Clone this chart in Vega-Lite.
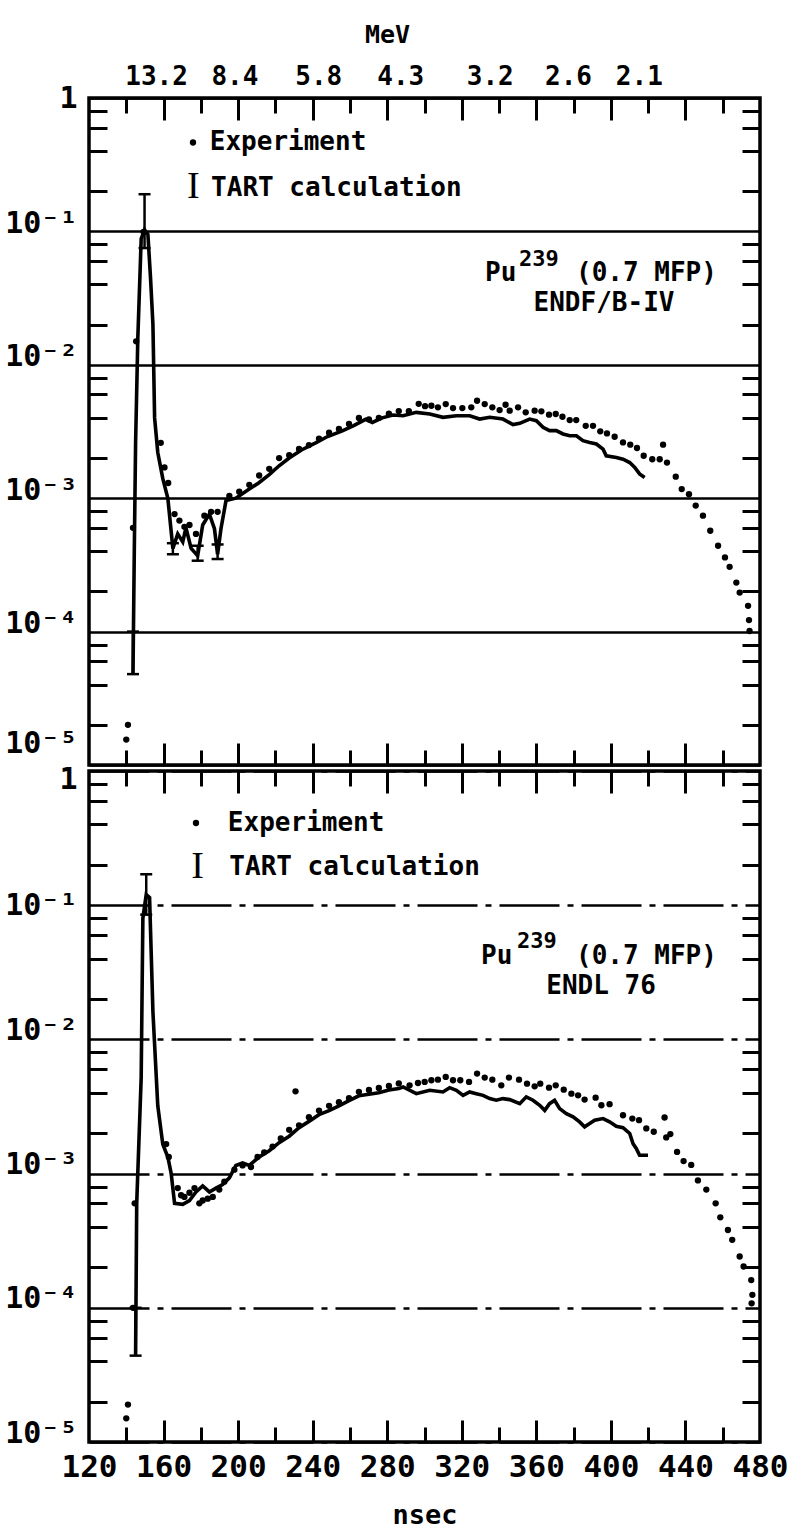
{
  "$schema": "https://vega.github.io/schema/vega-lite/v6.json",
  "background": "white",
  "padding": {"left": 0, "top": 20, "right": 0, "bottom": 0},
  "spacing": 6,
  "bounds": "flush",
  "config": {
    "view": {"stroke": "black", "strokeWidth": 3.5},
    "axis": {"domain": false, "grid": false, "labelColor": "black", "tickColor": "black", "tickWidth": 3, "labelOverlap": false, "labelFlush": false}
  },
  "datasets": {
    "exp": [
      {"p":"a","t":140.0,"v":1.55e-5},{"p":"a","t":140.9,"v":2.0e-5},{"p":"a","t":143.6,"v":6.0e-4},{"p":"a","t":145.3,"v":1.5e-2},{"p":"a","t":149.3,"v":0.099},
      {"p":"a","t":158.5,"v":2.6e-3},{"p":"a","t":160.5,"v":1.7e-3},{"p":"a","t":162.5,"v":1.3e-3},{"p":"a","t":165.9,"v":7.6e-4},{"p":"a","t":168.5,"v":6.8e-4},
      {"p":"a","t":171.2,"v":6.1e-4},{"p":"a","t":173.9,"v":6.3e-4},{"p":"a","t":177.4,"v":5.4e-4},{"p":"a","t":181.9,"v":7.4e-4},{"p":"a","t":185.5,"v":7.9e-4},
      {"p":"a","t":189.0,"v":7.9e-4},{"p":"a","t":195.3,"v":1.04e-3},{"p":"a","t":200.6,"v":1.12e-3},{"p":"a","t":206.0,"v":1.26e-3},{"p":"a","t":211.3,"v":1.48e-3},
      {"p":"a","t":216.7,"v":1.66e-3},{"p":"a","t":222.0,"v":2.0e-3},{"p":"a","t":227.4,"v":2.1e-3},{"p":"a","t":232.7,"v":2.34e-3},{"p":"a","t":238.0,"v":2.5e-3},
      {"p":"a","t":243.4,"v":2.8e-3},{"p":"a","t":248.8,"v":3.1e-3},{"p":"a","t":254.1,"v":3.3e-3},{"p":"a","t":259.5,"v":3.6e-3},{"p":"a","t":264.8,"v":4.0e-3},
      {"p":"a","t":270.2,"v":3.9e-3},{"p":"a","t":275.5,"v":4.0e-3},{"p":"a","t":280.9,"v":4.3e-3},{"p":"a","t":286.2,"v":4.5e-3},{"p":"a","t":291.6,"v":4.5e-3},
      {"p":"a","t":296.9,"v":5.1e-3},{"p":"a","t":300.3,"v":4.9e-3},{"p":"a","t":303.7,"v":4.93e-3},{"p":"a","t":307.2,"v":4.80e-3},{"p":"a","t":311.4,"v":5.08e-3},
      {"p":"a","t":315.3,"v":4.74e-3},{"p":"a","t":320.3,"v":4.74e-3},{"p":"a","t":325.1,"v":4.80e-3},{"p":"a","t":328.2,"v":5.38e-3},{"p":"a","t":332.3,"v":5.08e-3},
      {"p":"a","t":336.4,"v":4.80e-3},{"p":"a","t":340.3,"v":4.58e-3},{"p":"a","t":343.5,"v":5.02e-3},{"p":"a","t":345.7,"v":4.53e-3},{"p":"a","t":350.2,"v":4.80e-3},
      {"p":"a","t":354.3,"v":4.40e-3},{"p":"a","t":359.1,"v":4.53e-3},{"p":"a","t":362.7,"v":4.48e-3},{"p":"a","t":366.8,"v":4.23e-3},{"p":"a","t":370.4,"v":4.28e-3},
      {"p":"a","t":374.0,"v":4.08e-3},{"p":"a","t":377.9,"v":3.85e-3},{"p":"a","t":381.4,"v":3.85e-3},{"p":"a","t":386.5,"v":3.49e-3},{"p":"a","t":390.4,"v":3.49e-3},
      {"p":"a","t":394.3,"v":3.17e-3},{"p":"a","t":397.9,"v":3.06e-3},{"p":"a","t":402.0,"v":2.89e-3},{"p":"a","t":406.5,"v":2.62e-3},{"p":"a","t":410.4,"v":2.52e-3},
      {"p":"a","t":414.0,"v":2.38e-3},{"p":"a","t":417.6,"v":2.08e-3},{"p":"a","t":422.2,"v":1.96e-3},{"p":"a","t":426.2,"v":1.96e-3},{"p":"a","t":428.0,"v":2.52e-3},
      {"p":"a","t":430.1,"v":1.85e-3},{"p":"a","t":434.8,"v":1.45e-3},{"p":"a","t":438.0,"v":1.17e-3},{"p":"a","t":441.9,"v":1.07e-3},{"p":"a","t":445.5,"v":8.8e-4},
      {"p":"a","t":449.4,"v":7.4e-4},{"p":"a","t":453.3,"v":5.7e-4},{"p":"a","t":457.5,"v":4.4e-4},{"p":"a","t":461.2,"v":3.6e-4},{"p":"a","t":463.7,"v":3.06e-4},
      {"p":"a","t":467.3,"v":2.33e-4},{"p":"a","t":469.1,"v":1.96e-4},{"p":"a","t":473.6,"v":1.56e-4},{"p":"a","t":474.1,"v":1.22e-4},{"p":"a","t":474.4,"v":1.01e-4},
      {"p":"b","t":140.0,"v":1.5e-5},{"p":"b","t":140.9,"v":1.9e-5},{"p":"b","t":143.6,"v":1.0e-4},{"p":"b","t":144.5,"v":6.0e-4},{"p":"b","t":161.4,"v":1.66e-3},
      {"p":"b","t":162.8,"v":1.33e-3},{"p":"b","t":167.6,"v":7.8e-4},{"p":"b","t":169.4,"v":6.9e-4},{"p":"b","t":171.2,"v":6.7e-4},{"p":"b","t":173.9,"v":7.2e-4},
      {"p":"b","t":176.6,"v":7.8e-4},{"p":"b","t":179.2,"v":6.0e-4},{"p":"b","t":181.0,"v":6.3e-4},{"p":"b","t":183.7,"v":6.5e-4},{"p":"b","t":186.4,"v":6.7e-4},
      {"p":"b","t":189.9,"v":7.6e-4},{"p":"b","t":192.6,"v":8.7e-4},{"p":"b","t":198.0,"v":1.07e-3},{"p":"b","t":202.4,"v":1.15e-3},{"p":"b","t":206.9,"v":1.12e-3},
      {"p":"b","t":210.4,"v":1.33e-3},{"p":"b","t":214.0,"v":1.44e-3},{"p":"b","t":218.5,"v":1.59e-3},{"p":"b","t":222.9,"v":1.83e-3},{"p":"b","t":227.4,"v":2.12e-3},
      {"p":"b","t":230.8,"v":4.1e-3},{"p":"b","t":232.7,"v":2.29e-3},{"p":"b","t":238.0,"v":2.63e-3},{"p":"b","t":243.4,"v":2.95e-3},{"p":"b","t":248.8,"v":3.2e-3},
      {"p":"b","t":254.1,"v":3.4e-3},{"p":"b","t":259.5,"v":3.65e-3},{"p":"b","t":264.8,"v":4.07e-3},{"p":"b","t":270.2,"v":4.2e-3},{"p":"b","t":275.5,"v":4.35e-3},
      {"p":"b","t":280.9,"v":4.5e-3},{"p":"b","t":286.2,"v":4.7e-3},{"p":"b","t":292.0,"v":4.55e-3},{"p":"b","t":296.5,"v":4.73e-3},{"p":"b","t":300.1,"v":4.82e-3},
      {"p":"b","t":303.7,"v":4.96e-3},{"p":"b","t":307.2,"v":5.01e-3},{"p":"b","t":311.4,"v":5.25e-3},{"p":"b","t":315.3,"v":4.96e-3},{"p":"b","t":319.2,"v":4.96e-3},
      {"p":"b","t":323.9,"v":4.82e-3},{"p":"b","t":328.2,"v":5.56e-3},{"p":"b","t":332.3,"v":5.19e-3},{"p":"b","t":336.4,"v":5.01e-3},{"p":"b","t":341.2,"v":4.55e-3},
      {"p":"b","t":345.3,"v":5.19e-3},{"p":"b","t":350.7,"v":5.01e-3},{"p":"b","t":355.0,"v":4.68e-3},{"p":"b","t":359.1,"v":4.47e-3},{"p":"b","t":362.1,"v":4.68e-3},
      {"p":"b","t":366.8,"v":4.37e-3},{"p":"b","t":370.4,"v":4.55e-3},{"p":"b","t":374.7,"v":4.22e-3},{"p":"b","t":378.8,"v":3.94e-3},{"p":"b","t":382.4,"v":3.83e-3},
      {"p":"b","t":385.9,"v":3.56e-3},{"p":"b","t":391.8,"v":3.68e-3},{"p":"b","t":394.9,"v":3.23e-3},{"p":"b","t":399.3,"v":3.29e-3},{"p":"b","t":406.5,"v":2.72e-3},
      {"p":"b","t":411.5,"v":2.57e-3},{"p":"b","t":415.1,"v":2.50e-3},{"p":"b","t":419.0,"v":2.17e-3},{"p":"b","t":423.0,"v":2.05e-3},{"p":"b","t":428.8,"v":2.62e-3},
      {"p":"b","t":429.7,"v":1.86e-3},{"p":"b","t":431.9,"v":1.97e-3},{"p":"b","t":435.5,"v":1.45e-3},{"p":"b","t":439.0,"v":1.24e-3},{"p":"b","t":443.1,"v":1.16e-3},
      {"p":"b","t":446.7,"v":8.9e-4},{"p":"b","t":451.2,"v":7.6e-4},{"p":"b","t":456.2,"v":6.0e-4},{"p":"b","t":458.7,"v":4.72e-4},{"p":"b","t":462.8,"v":3.80e-4},
      {"p":"b","t":465.1,"v":3.21e-4},{"p":"b","t":469.1,"v":2.41e-4},{"p":"b","t":471.2,"v":2.03e-4},{"p":"b","t":475.3,"v":1.61e-4},{"p":"b","t":475.9,"v":1.25e-4},
      {"p":"b","t":475.5,"v":1.08e-4}
    ],
    "calc": [
      {"p":"a","t":143.6,"v":4.8e-5},{"p":"a","t":144.3,"v":4.0e-4},{"p":"a","t":145.0,"v":2.6e-3},{"p":"a","t":146.2,"v":1.6e-2},{"p":"a","t":148.0,"v":8.8e-2},
      {"p":"a","t":149.8,"v":0.103},{"p":"a","t":151.6,"v":0.095},{"p":"a","t":153.0,"v":0.045},{"p":"a","t":154.3,"v":0.02},{"p":"a","t":155.2,"v":4.0e-3},
      {"p":"a","t":156.9,"v":2.2e-3},{"p":"a","t":159.6,"v":1.4e-3},{"p":"a","t":162.3,"v":1.0e-3},{"p":"a","t":165.0,"v":4.2e-4},{"p":"a","t":167.6,"v":5.4e-4},
      {"p":"a","t":170.3,"v":4.7e-4},{"p":"a","t":172.0,"v":6.0e-4},{"p":"a","t":174.8,"v":4.2e-4},{"p":"a","t":178.3,"v":3.7e-4},{"p":"a","t":181.0,"v":6.3e-4},
      {"p":"a","t":184.6,"v":7.6e-4},{"p":"a","t":187.3,"v":5.9e-4},{"p":"a","t":189.0,"v":3.8e-4},{"p":"a","t":190.8,"v":5.9e-4},{"p":"a","t":193.5,"v":9.6e-4},
      {"p":"a","t":198.8,"v":1.0e-3},{"p":"a","t":206.0,"v":1.17e-3},{"p":"a","t":211.0,"v":1.3e-3},{"p":"a","t":216.7,"v":1.5e-3},{"p":"a","t":222.0,"v":1.75e-3},
      {"p":"a","t":227.4,"v":2.0e-3},{"p":"a","t":234.0,"v":2.3e-3},{"p":"a","t":241.6,"v":2.6e-3},{"p":"a","t":248.0,"v":2.9e-3},{"p":"a","t":255.9,"v":3.2e-3},
      {"p":"a","t":262.0,"v":3.5e-3},{"p":"a","t":268.4,"v":3.9e-3},{"p":"a","t":272.0,"v":3.7e-3},{"p":"a","t":277.3,"v":4.0e-3},{"p":"a","t":283.0,"v":4.2e-3},
      {"p":"a","t":288.5,"v":4.15e-3},{"p":"a","t":295.6,"v":4.40e-3},{"p":"a","t":302.8,"v":4.28e-3},{"p":"a","t":309.9,"v":4.04e-3},{"p":"a","t":317.1,"v":4.15e-3},
      {"p":"a","t":324.2,"v":4.15e-3},{"p":"a","t":329.6,"v":3.92e-3},{"p":"a","t":335.0,"v":4.04e-3},{"p":"a","t":342.1,"v":3.92e-3},{"p":"a","t":347.5,"v":3.56e-3},
      {"p":"a","t":351.1,"v":3.64e-3},{"p":"a","t":356.4,"v":3.92e-3},{"p":"a","t":360.0,"v":3.81e-3},{"p":"a","t":363.6,"v":3.40e-3},{"p":"a","t":367.1,"v":3.21e-3},
      {"p":"a","t":370.7,"v":3.21e-3},{"p":"a","t":374.3,"v":3.03e-3},{"p":"a","t":377.9,"v":2.94e-3},{"p":"a","t":381.5,"v":2.94e-3},{"p":"a","t":385.0,"v":2.70e-3},
      {"p":"a","t":388.6,"v":2.62e-3},{"p":"a","t":392.2,"v":2.55e-3},{"p":"a","t":395.8,"v":2.33e-3},{"p":"a","t":397.5,"v":2.08e-3},{"p":"a","t":402.9,"v":2.02e-3},
      {"p":"a","t":406.5,"v":1.96e-3},{"p":"a","t":410.1,"v":1.85e-3},{"p":"a","t":412.8,"v":1.70e-3},{"p":"a","t":415.4,"v":1.52e-3},{"p":"a","t":418.1,"v":1.43e-3},
      {"p":"b","t":145.0,"v":4.4e-5},{"p":"b","t":145.6,"v":6.0e-4},{"p":"b","t":148.0,"v":5.2e-3},{"p":"b","t":148.9,"v":0.08},{"p":"b","t":150.7,"v":0.12},
      {"p":"b","t":152.5,"v":0.114},{"p":"b","t":154.3,"v":0.016},{"p":"b","t":156.9,"v":3.2e-3},{"p":"b","t":159.6,"v":1.65e-3},{"p":"b","t":162.3,"v":1.33e-3},
      {"p":"b","t":164.1,"v":1.0e-3},{"p":"b","t":165.9,"v":6.0e-4},{"p":"b","t":170.3,"v":5.9e-4},{"p":"b","t":173.9,"v":6.3e-4},{"p":"b","t":177.4,"v":7.3e-4},
      {"p":"b","t":181.0,"v":8.1e-4},{"p":"b","t":184.6,"v":7.3e-4},{"p":"b","t":188.1,"v":7.8e-4},{"p":"b","t":191.7,"v":8.3e-4},{"p":"b","t":195.3,"v":9.3e-4},
      {"p":"b","t":198.8,"v":1.15e-3},{"p":"b","t":202.4,"v":1.2e-3},{"p":"b","t":206.0,"v":1.15e-3},{"p":"b","t":211.3,"v":1.33e-3},{"p":"b","t":216.7,"v":1.48e-3},
      {"p":"b","t":222.0,"v":1.7e-3},{"p":"b","t":227.4,"v":1.9e-3},{"p":"b","t":232.7,"v":2.2e-3},{"p":"b","t":238.0,"v":2.45e-3},{"p":"b","t":243.4,"v":2.75e-3},
      {"p":"b","t":248.8,"v":2.95e-3},{"p":"b","t":254.1,"v":3.2e-3},{"p":"b","t":259.5,"v":3.5e-3},{"p":"b","t":264.8,"v":3.8e-3},{"p":"b","t":270.2,"v":3.9e-3},
      {"p":"b","t":275.5,"v":4.0e-3},{"p":"b","t":280.9,"v":4.2e-3},{"p":"b","t":286.2,"v":4.3e-3},{"p":"b","t":288.5,"v":4.42e-3},{"p":"b","t":295.6,"v":3.94e-3},
      {"p":"b","t":302.8,"v":4.18e-3},{"p":"b","t":309.9,"v":4.06e-3},{"p":"b","t":313.5,"v":4.37e-3},{"p":"b","t":317.1,"v":4.18e-3},{"p":"b","t":320.7,"v":3.83e-3},
      {"p":"b","t":324.2,"v":4.06e-3},{"p":"b","t":327.8,"v":3.94e-3},{"p":"b","t":331.4,"v":3.83e-3},{"p":"b","t":335.0,"v":3.62e-3},{"p":"b","t":338.5,"v":3.52e-3},
      {"p":"b","t":342.1,"v":3.62e-3},{"p":"b","t":345.7,"v":3.56e-3},{"p":"b","t":351.1,"v":3.32e-3},{"p":"b","t":354.6,"v":3.73e-3},{"p":"b","t":358.2,"v":3.52e-3},
      {"p":"b","t":361.8,"v":3.23e-3},{"p":"b","t":364.5,"v":2.96e-3},{"p":"b","t":367.1,"v":3.32e-3},{"p":"b","t":369.8,"v":3.52e-3},{"p":"b","t":372.5,"v":3.05e-3},
      {"p":"b","t":376.1,"v":2.80e-3},{"p":"b","t":379.7,"v":2.65e-3},{"p":"b","t":383.2,"v":2.43e-3},{"p":"b","t":385.9,"v":2.23e-3},{"p":"b","t":388.6,"v":2.36e-3},
      {"p":"b","t":391.3,"v":2.50e-3},{"p":"b","t":395.8,"v":2.57e-3},{"p":"b","t":399.3,"v":2.43e-3},{"p":"b","t":402.9,"v":2.25e-3},{"p":"b","t":406.5,"v":2.20e-3},
      {"p":"b","t":410.1,"v":1.99e-3},{"p":"b","t":411.9,"v":1.67e-3},{"p":"b","t":413.6,"v":1.54e-3},{"p":"b","t":415.4,"v":1.37e-3},{"p":"b","t":419.9,"v":1.37e-3}
    ],
    "err": [
      {"p":"a","t":143.6,"lo":4.8e-5,"hi":1.0e-4},{"p":"a","t":149.8,"lo":0.075,"hi":0.19},{"p":"a","t":165.0,"lo":3.8e-4,"hi":4.6e-4},
      {"p":"a","t":178.3,"lo":3.4e-4,"hi":4.4e-4},{"p":"a","t":189.0,"lo":3.5e-4,"hi":4.5e-4},
      {"p":"b","t":145.0,"lo":4.4e-5,"hi":1.0e-4},{"p":"b","t":150.7,"lo":0.085,"hi":0.17}
    ],
    "one": [{}]
  },
  "vconcat": [
    {
      "width": 671,
      "height": 667,
      "resolve": {"axis": {"x": "independent", "y": "independent"}},
      "layer": [
        {
          "data": {"name": "exp"},
          "transform": [{"filter": "datum.p == 'a'"}],
          "mark": {"type": "circle", "size": 40, "color": "black", "opacity": 1},
          "encoding": {
            "x": {"field": "t", "type": "quantitative", "scale": {"domain": [120, 480], "nice": false, "zero": false},
              "axis": {"orient": "top", "values": [156, 198, 243, 287, 335, 377, 415], "ticks": false, "labelPadding": 9,
                "labelExpr": "datum.value == 156 ? '13.2' : datum.value == 198 ? '8.4' : datum.value == 243 ? '5.8' : datum.value == 287 ? '4.3' : datum.value == 335 ? '3.2' : datum.value == 377 ? '2.6' : '2.1'",
                "labelFont": "'DejaVu Sans Mono', monospace", "labelFontSize": 26, "labelFontWeight": "bold",
                "minExtent": 35, "maxExtent": 35,
                "title": "MeV", "titleFont": "'DejaVu Sans Mono', monospace", "titleFontSize": 25, "titleFontWeight": "bold", "titleColor": "black", "titlePadding": 16, "titleX": 298}},
            "y": {"field": "v", "type": "quantitative", "scale": {"type": "log", "domain": [1e-5, 1], "nice": false},
              "axis": {"orient": "left", "values": [1e-5, 1e-4, 1e-3, 1e-2, 1e-1, 1], "grid": true, "gridColor": "black", "gridWidth": 2.5, "gridOpacity": 1, "ticks": false,
                "labelExpr": "datum.value > 0.5 ? '1' : '10' + (datum.value > 0.05 ? '⁻¹' : datum.value > 0.005 ? '⁻²' : datum.value > 0.0005 ? '⁻³' : datum.value > 0.00005 ? '⁻⁴' : '⁻⁵')",
                "labelFont": "'DejaVu Sans Mono', monospace", "labelFontSize": 30, "labelFontWeight": "bold", "labelPadding": 12, "labelBaseline": "middle",
                "labelOffset": {"condition": [{"test": "datum.value < 2e-5", "value": -22}, {"test": "datum.value > 0.5", "value": 0}], "value": -8},
                "minExtent": 85, "maxExtent": 85, "title": " ", "titleFontSize": 1, "titlePadding": 1}}
          }
        },
        {
          "data": {"name": "calc"},
          "transform": [{"filter": "datum.p == 'a'"}],
          "mark": {"type": "line", "color": "black", "strokeWidth": 3.6},
          "encoding": {
            "x": {"field": "t", "type": "quantitative", "scale": {"domain": [120, 480], "nice": false, "zero": false},
              "axis": {"orient": "top", "values": [140, 160, 180, 200, 220, 240, 260, 280, 300, 320, 340, 360, 380, 400, 420, 440, 460], "labels": false,
                "tickSize": {"condition": {"test": "datum.value % 40 == 0", "value": -22}, "value": -15}, "minExtent": 0, "maxExtent": 0, "title": null}},
            "y": {"field": "v", "type": "quantitative", "scale": {"type": "log", "domain": [1e-5, 1], "nice": false},
              "axis": {"orient": "left", "values": [2e-5, 4e-5, 6e-5, 8e-5, 2e-4, 4e-4, 6e-4, 8e-4, 2e-3, 4e-3, 6e-3, 8e-3, 2e-2, 4e-2, 6e-2, 8e-2, 0.2, 0.4, 0.6, 0.8],
                "labels": false, "tickSize": -18, "minExtent": 0, "maxExtent": 0, "title": null}}
          }
        },
        {
          "data": {"name": "err"},
          "transform": [{"filter": "datum.p == 'a'"}],
          "mark": {"type": "rule", "color": "black", "strokeWidth": 2.5},
          "encoding": {
            "x": {"field": "t", "type": "quantitative", "scale": {"domain": [120, 480], "nice": false, "zero": false},
              "axis": {"orient": "bottom", "values": [140, 160, 180, 200, 220, 240, 260, 280, 300, 320, 340, 360, 380, 400, 420, 440, 460], "labels": false,
                "tickSize": {"condition": {"test": "datum.value % 40 == 0", "value": -22}, "value": -15}, "minExtent": 0, "maxExtent": 0, "title": null}},
            "y": {"field": "lo", "type": "quantitative", "scale": {"type": "log", "domain": [1e-5, 1], "nice": false},
              "axis": {"orient": "right", "values": [2e-5, 4e-5, 6e-5, 8e-5, 2e-4, 4e-4, 6e-4, 8e-4, 2e-3, 4e-3, 6e-3, 8e-3, 2e-2, 4e-2, 6e-2, 8e-2, 0.2, 0.4, 0.6, 0.8],
                "labels": false, "tickSize": -18, "minExtent": 0, "maxExtent": 0, "title": null}},
            "y2": {"field": "hi"}
          }
        },
        {
          "data": {"name": "err"},
          "transform": [{"filter": "datum.p == 'a'"}, {"fold": ["lo", "hi"], "as": ["k", "val"]}],
          "mark": {"type": "tick", "orient": "horizontal", "size": 12, "thickness": 2.5, "color": "black", "opacity": 1},
          "encoding": {
            "x": {"field": "t", "type": "quantitative", "axis": null},
            "y": {"field": "val", "type": "quantitative", "axis": null}
          }
        },
        {
          "data": {"name": "one"},
          "mark": {"type": "circle", "size": 40, "color": "black", "opacity": 1},
          "encoding": {"x": {"datum": 175.8, "type": "quantitative", "axis": null}, "y": {"datum": 0.464, "type": "quantitative", "axis": null}}
        },
        {
          "data": {"name": "one"},
          "mark": {"type": "text", "text": "Experiment", "font": "'DejaVu Sans Mono', monospace", "fontSize": 26, "fontWeight": "bold", "align": "left", "baseline": "middle", "color": "black"},
          "encoding": {"x": {"datum": 184.8, "type": "quantitative", "axis": null}, "y": {"datum": 0.464, "type": "quantitative", "axis": null}}
        },
        {
          "data": {"name": "one"},
          "mark": {"type": "text", "text": "I", "font": "'Liberation Serif', 'DejaVu Serif', serif", "fontSize": 38, "align": "center", "baseline": "middle", "color": "black"},
          "encoding": {"x": {"datum": 176.0, "type": "quantitative", "axis": null}, "y": {"datum": 0.217, "type": "quantitative", "axis": null}}
        },
        {
          "data": {"name": "one"},
          "mark": {"type": "text", "text": "TART calculation", "font": "'DejaVu Sans Mono', monospace", "fontSize": 26, "fontWeight": "bold", "align": "left", "baseline": "middle", "color": "black"},
          "encoding": {"x": {"datum": 185.5, "type": "quantitative", "axis": null}, "y": {"datum": 0.213, "type": "quantitative", "axis": null}}
        },
        {
          "data": {"name": "one"},
          "mark": {"type": "text", "text": "Pu", "font": "'DejaVu Sans Mono', monospace", "fontSize": 26, "fontWeight": "bold", "align": "left", "baseline": "middle", "color": "black"},
          "encoding": {"x": {"datum": 332.5, "type": "quantitative", "axis": null}, "y": {"datum": 0.0491, "type": "quantitative", "axis": null}}
        },
        {
          "data": {"name": "one"},
          "mark": {"type": "text", "text": "239", "font": "'DejaVu Sans Mono', monospace", "fontSize": 22, "fontWeight": "bold", "align": "left", "baseline": "middle", "color": "black"},
          "encoding": {"x": {"datum": 350.7, "type": "quantitative", "axis": null}, "y": {"datum": 0.0625, "type": "quantitative", "axis": null}}
        },
        {
          "data": {"name": "one"},
          "mark": {"type": "text", "text": "(0.7 MFP)", "font": "'DejaVu Sans Mono', monospace", "fontSize": 26, "fontWeight": "bold", "align": "left", "baseline": "middle", "color": "black"},
          "encoding": {"x": {"datum": 381.3, "type": "quantitative", "axis": null}, "y": {"datum": 0.0491, "type": "quantitative", "axis": null}}
        },
        {
          "data": {"name": "one"},
          "mark": {"type": "text", "text": "ENDF/B-IV", "font": "'DejaVu Sans Mono', monospace", "fontSize": 26, "fontWeight": "bold", "align": "center", "baseline": "middle", "color": "black"},
          "encoding": {"x": {"datum": 396.3, "type": "quantitative", "axis": null}, "y": {"datum": 0.0292, "type": "quantitative", "axis": null}}
        }
      ]
    },
    {
      "width": 671,
      "height": 671,
      "resolve": {"axis": {"x": "independent", "y": "independent"}},
      "layer": [
        {
          "data": {"name": "exp"},
          "transform": [{"filter": "datum.p == 'b'"}],
          "mark": {"type": "circle", "size": 40, "color": "black", "opacity": 1},
          "encoding": {
            "x": {"field": "t", "type": "quantitative", "scale": {"domain": [120, 480], "nice": false, "zero": false},
              "axis": {"orient": "bottom", "values": [120, 160, 200, 240, 280, 320, 360, 400, 440, 480], "ticks": false, "labelPadding": 10,
                "labelFont": "'DejaVu Sans Mono', monospace", "labelFontSize": 31, "labelFontWeight": "bold",
                "title": "nsec", "titleFont": "'DejaVu Sans Mono', monospace", "titleFontSize": 27, "titleFontWeight": "bold", "titleColor": "black", "titlePadding": 20}},
            "y": {"field": "v", "type": "quantitative", "scale": {"type": "log", "domain": [1e-5, 1], "nice": false},
              "axis": {"orient": "left", "values": [1e-5, 1e-4, 1e-3, 1e-2, 1e-1, 1], "grid": true, "gridColor": "black", "gridWidth": 2.5, "gridOpacity": 1, "gridDash": [60, 8, 6, 8], "ticks": false,
                "labelExpr": "datum.value > 0.5 ? '1' : '10' + (datum.value > 0.05 ? '⁻¹' : datum.value > 0.005 ? '⁻²' : datum.value > 0.0005 ? '⁻³' : datum.value > 0.00005 ? '⁻⁴' : '⁻⁵')",
                "labelFont": "'DejaVu Sans Mono', monospace", "labelFontSize": 30, "labelFontWeight": "bold", "labelPadding": 12, "labelBaseline": "middle",
                "labelOffset": {"condition": [{"test": "datum.value > 0.5", "value": 8}, {"test": "datum.value > 0.05", "value": 0}], "value": -9},
                "minExtent": 85, "maxExtent": 85, "title": " ", "titleFontSize": 1, "titlePadding": 1}}
          }
        },
        {
          "data": {"name": "calc"},
          "transform": [{"filter": "datum.p == 'b'"}],
          "mark": {"type": "line", "color": "black", "strokeWidth": 3.6},
          "encoding": {
            "x": {"field": "t", "type": "quantitative", "scale": {"domain": [120, 480], "nice": false, "zero": false},
              "axis": {"orient": "bottom", "values": [140, 160, 180, 200, 220, 240, 260, 280, 300, 320, 340, 360, 380, 400, 420, 440, 460], "labels": false,
                "tickSize": {"condition": {"test": "datum.value % 40 == 0", "value": -22}, "value": -15}, "minExtent": 0, "maxExtent": 0, "title": null}},
            "y": {"field": "v", "type": "quantitative", "scale": {"type": "log", "domain": [1e-5, 1], "nice": false},
              "axis": {"orient": "left", "values": [2e-5, 4e-5, 6e-5, 8e-5, 2e-4, 4e-4, 6e-4, 8e-4, 2e-3, 4e-3, 6e-3, 8e-3, 2e-2, 4e-2, 6e-2, 8e-2, 0.2, 0.4, 0.6, 0.8],
                "labels": false, "tickSize": -18, "minExtent": 0, "maxExtent": 0, "title": null}}
          }
        },
        {
          "data": {"name": "err"},
          "transform": [{"filter": "datum.p == 'b'"}],
          "mark": {"type": "rule", "color": "black", "strokeWidth": 2.5},
          "encoding": {
            "x": {"field": "t", "type": "quantitative", "scale": {"domain": [120, 480], "nice": false, "zero": false},
              "axis": {"orient": "top", "values": [140, 160, 180, 200, 220, 240, 260, 280, 300, 320, 340, 360, 380, 400, 420, 440, 460], "labels": false,
                "tickSize": {"condition": {"test": "datum.value % 40 == 0", "value": -22}, "value": -15}, "minExtent": 0, "maxExtent": 0, "title": null}},
            "y": {"field": "lo", "type": "quantitative", "scale": {"type": "log", "domain": [1e-5, 1], "nice": false},
              "axis": {"orient": "right", "values": [2e-5, 4e-5, 6e-5, 8e-5, 2e-4, 4e-4, 6e-4, 8e-4, 2e-3, 4e-3, 6e-3, 8e-3, 2e-2, 4e-2, 6e-2, 8e-2, 0.2, 0.4, 0.6, 0.8],
                "labels": false, "tickSize": -18, "minExtent": 0, "maxExtent": 0, "title": null}},
            "y2": {"field": "hi"}
          }
        },
        {
          "data": {"name": "err"},
          "transform": [{"filter": "datum.p == 'b'"}, {"fold": ["lo", "hi"], "as": ["k", "val"]}],
          "mark": {"type": "tick", "orient": "horizontal", "size": 12, "thickness": 2.5, "color": "black", "opacity": 1},
          "encoding": {
            "x": {"field": "t", "type": "quantitative", "axis": null},
            "y": {"field": "val", "type": "quantitative", "axis": null}
          }
        },
        {
          "data": {"name": "one"},
          "mark": {"type": "circle", "size": 40, "color": "black", "opacity": 1},
          "encoding": {"x": {"datum": 177.4, "type": "quantitative", "axis": null}, "y": {"datum": 0.41, "type": "quantitative", "axis": null}}
        },
        {
          "data": {"name": "one"},
          "mark": {"type": "text", "text": "Experiment", "font": "'DejaVu Sans Mono', monospace", "fontSize": 26, "fontWeight": "bold", "align": "left", "baseline": "middle", "color": "black"},
          "encoding": {"x": {"datum": 194.5, "type": "quantitative", "axis": null}, "y": {"datum": 0.41, "type": "quantitative", "axis": null}}
        },
        {
          "data": {"name": "one"},
          "mark": {"type": "text", "text": "I", "font": "'Liberation Serif', 'DejaVu Serif', serif", "fontSize": 38, "align": "center", "baseline": "middle", "color": "black"},
          "encoding": {"x": {"datum": 178.3, "type": "quantitative", "axis": null}, "y": {"datum": 0.193, "type": "quantitative", "axis": null}}
        },
        {
          "data": {"name": "one"},
          "mark": {"type": "text", "text": "TART calculation", "font": "'DejaVu Sans Mono', monospace", "fontSize": 26, "fontWeight": "bold", "align": "left", "baseline": "middle", "color": "black"},
          "encoding": {"x": {"datum": 195.3, "type": "quantitative", "axis": null}, "y": {"datum": 0.193, "type": "quantitative", "axis": null}}
        },
        {
          "data": {"name": "one"},
          "mark": {"type": "text", "text": "Pu", "font": "'DejaVu Sans Mono', monospace", "fontSize": 26, "fontWeight": "bold", "align": "left", "baseline": "middle", "color": "black"},
          "encoding": {"x": {"datum": 330.3, "type": "quantitative", "axis": null}, "y": {"datum": 0.042, "type": "quantitative", "axis": null}}
        },
        {
          "data": {"name": "one"},
          "mark": {"type": "text", "text": "239", "font": "'DejaVu Sans Mono', monospace", "fontSize": 22, "fontWeight": "bold", "align": "left", "baseline": "middle", "color": "black"},
          "encoding": {"x": {"datum": 349.6, "type": "quantitative", "axis": null}, "y": {"datum": 0.054, "type": "quantitative", "axis": null}}
        },
        {
          "data": {"name": "one"},
          "mark": {"type": "text", "text": "(0.7 MFP)", "font": "'DejaVu Sans Mono', monospace", "fontSize": 26, "fontWeight": "bold", "align": "left", "baseline": "middle", "color": "black"},
          "encoding": {"x": {"datum": 381.3, "type": "quantitative", "axis": null}, "y": {"datum": 0.042, "type": "quantitative", "axis": null}}
        },
        {
          "data": {"name": "one"},
          "mark": {"type": "text", "text": "ENDL 76", "font": "'DejaVu Sans Mono', monospace", "fontSize": 26, "fontWeight": "bold", "align": "center", "baseline": "middle", "color": "black"},
          "encoding": {"x": {"datum": 394.7, "type": "quantitative", "axis": null}, "y": {"datum": 0.0252, "type": "quantitative", "axis": null}}
        }
      ]
    }
  ]
}
